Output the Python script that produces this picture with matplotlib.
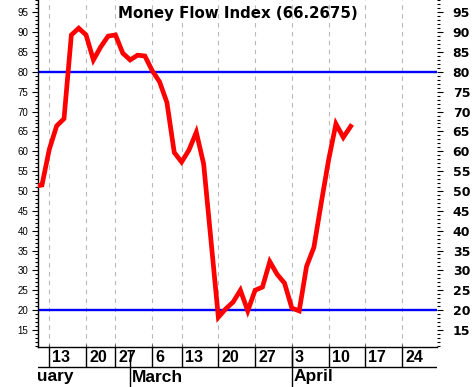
import matplotlib
matplotlib.use("Agg")
import matplotlib.pyplot as plt
import numpy as np

# ---- data ----
session_idx = list(range(-2, 42))
mfi_values = [51.2, 51.5, 60.5, 66.4, 68.2, 89.3, 91.0, 89.3, 83.0, 86.3,
              89.0, 89.3, 84.7, 83.0, 84.2, 84.0, 80.3, 77.5, 72.3, 59.7,
              57.3, 60.3, 64.8, 56.8, 37.5, 18.2, 20.3, 22.0, 25.0, 19.8,
              25.0, 25.8, 32.2, 29.0, 26.8, 20.5, 19.8, 31.0, 35.8, 47.0,
              57.8, 66.9, 63.5, 66.2675]
week_tick_idx = [0, 5, 9, 14, 18, 23, 28, 33, 38, 43, 48]
week_labels = ['13', '20', '27', '6', '13', '20', '27', '3', '10', '17', '24']
month_idx = [-7, 11, 33]
month_labels = ['February', 'March', 'April']
upper_level = 80
lower_level = 20
title_text = 'Money Flow Index (66.2675)'

W, H = 474, 387
fig = plt.figure(figsize=(W / 100, H / 100), dpi=100)
fig.patch.set_facecolor('white')

L, R = 38, 437
plot_bottom_px = 40
ax = fig.add_axes([L / W, plot_bottom_px / H, (R - L) / W, (H - plot_bottom_px) / H])
ax.set_xlim(-1.54, 52.75)
ax.set_ylim(10.7, 98.1)

# gridlines
for xi in week_tick_idx:
    ax.axvline(xi, color='#b8b8b8', lw=0.8, ls=(0, (4, 4)), zorder=1)

ax.axhline(upper_level, color='#0000ff', lw=1.7, zorder=2)
ax.axhline(lower_level, color='#0000ff', lw=1.7, zorder=2)

ax.plot(session_idx, mfi_values, color='#ff0000', lw=3.4, solid_joinstyle='miter',
        zorder=3)

ax.text(0.5, 1 - 18 / (H - plot_bottom_px), title_text, transform=ax.transAxes,
        ha='center', va='baseline', fontsize=10.8, fontweight='bold',
        family='DejaVu Sans', color='black', zorder=4)

# spines
for s in ['top', 'right']:
    ax.spines[s].set_visible(False)
ax.spines['left'].set_linewidth(1.0)
ax.spines['bottom'].set_linewidth(1.0)

# left y axis
major = np.arange(15, 100, 5)
minor = np.arange(11, 99, 1)
ax.set_yticks(major)
ax.set_yticks(minor, minor=True)
ax.set_yticklabels([str(v) for v in major], fontsize=7, family='Liberation Sans')
ax.tick_params(axis='y', which='major', length=4, width=0.8, pad=3, direction='out')
ax.tick_params(axis='y', which='minor', length=2, width=0.8, direction='out')
ax.set_xticks(week_tick_idx)
ax.tick_params(axis='x', which='major', length=2.5, width=0.8, direction='in',
               labelbottom=False, color='#555555')

# right y axis
axr = ax.twinx()
axr.set_ylim(ax.get_ylim())
for s in axr.spines.values():
    s.set_visible(False)
axr.set_yticks(major)
axr.set_yticks(minor, minor=True)
axr.set_yticklabels([str(v) for v in major], fontsize=9, fontweight='bold',
                    family='DejaVu Sans')
axr.tick_params(axis='y', which='major', length=4.3, width=0.8, pad=7, direction='out')
axr.tick_params(axis='y', which='minor', length=2.2, width=0.8, direction='out')

# date axis
axd = fig.add_axes([L / W, 0, (R - L) / W, plot_bottom_px / H])
axd.set_xlim(ax.get_xlim())
axd.set_ylim(0, 2)
axd.axis('off')
axd.axhline(1, color='black', lw=1.0)
axd.vlines(week_tick_idx, 1, 2, color='black', lw=1.0)
axd.vlines(month_idx[1:], 0, 1.85, color='black', lw=1.0)
for xi, lab in zip(week_tick_idx, week_labels):
    axd.annotate(lab, (xi, 1.5), xytext=(3, 0), textcoords='offset pixels',
                 ha='left', va='center', fontsize=11.5, fontweight='bold',
                 family='Liberation Sans', annotation_clip=False, clip_on=True)
for xi, lab in zip(month_idx, month_labels):
    axd.annotate(lab, (xi, 0.5), xytext=(2, 0), textcoords='offset pixels',
                 ha='left', va='center', fontsize=12.5, fontweight='bold',
                 family='Liberation Sans', annotation_clip=False, clip_on=True)

fig.savefig('out.png', dpi=100)
